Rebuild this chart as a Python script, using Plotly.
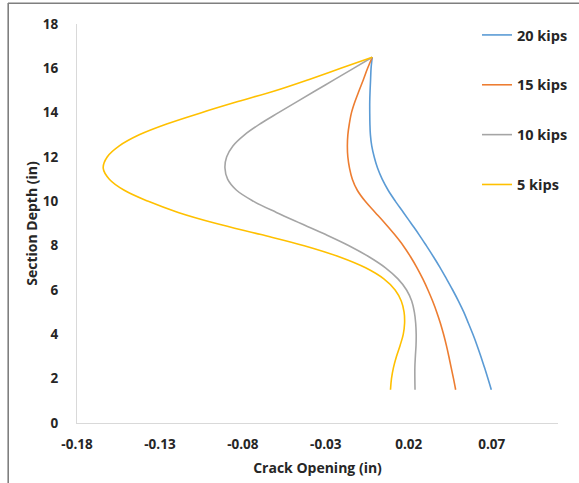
import plotly.graph_objects as go

depth = [16.5, 16.0, 15.5, 15.0, 14.5, 14.0, 13.5, 13.0, 12.5, 12.0, 11.5, 11.0, 10.5, 10.0, 9.5, 9.0,
         8.5, 8.0, 7.5, 7.0, 6.5, 6.0, 5.5, 5.0, 4.5, 4.0, 3.5, 3.0, 2.5, 2.0, 1.5]
kips20 = [-0.002, -0.0027, -0.0030, -0.0033, -0.0035, -0.0035, -0.0034, -0.0031, -0.0023, -0.0008, 0.0012,
          0.0040, 0.0076, 0.0120, 0.0168, 0.0215, 0.0262, 0.0306, 0.0349, 0.0390, 0.0428, 0.0465, 0.0500,
          0.0532, 0.0560, 0.0587, 0.0612, 0.0635, 0.0657, 0.0678, 0.0698]
kips15 = [-0.002, -0.0048, -0.0073, -0.0099, -0.0124, -0.0145, -0.0158, -0.0167, -0.0170, -0.0167, -0.0157,
          -0.0140, -0.0110, -0.0062, -0.0002, 0.0058, 0.0115, 0.0167, 0.0211, 0.0250, 0.0285, 0.0316, 0.0344,
          0.0369, 0.0391, 0.0410, 0.0427, 0.0442, 0.0456, 0.0470, 0.0483]
kips10 = [-0.002, -0.0133, -0.0246, -0.0360, -0.0473, -0.0585, -0.0695, -0.0790, -0.0860, -0.0898, -0.0908,
          -0.0892, -0.0838, -0.0735, -0.0598, -0.0450, -0.0300, -0.0160, -0.0040, 0.0060, 0.0135, 0.0187,
          0.0218, 0.0234, 0.0242, 0.0245, 0.0244, 0.0240, 0.0237, 0.0237, 0.0238]
kips5 = [-0.002, -0.021, -0.040, -0.060, -0.083, -0.105, -0.1255, -0.1425, -0.1545, -0.1618, -0.1642,
         -0.1605, -0.1515, -0.1370, -0.1190, -0.0960, -0.0690, -0.0430, -0.0220, -0.0060, 0.0050, 0.0118,
         0.0155, 0.0172, 0.0175, 0.0167, 0.0148, 0.0126, 0.0108, 0.0096, 0.0090]

series_names = ["20 kips", "15 kips", "10 kips", "5 kips"]
series_vals = [kips20, kips15, kips10, kips5]
colors = ["#5B9BD5", "#ED7D31", "#A5A5A5", "#FFC000"]

x_ticks = [-0.18, -0.13, -0.08, -0.03, 0.02, 0.07]
x_tick_labels = ["-0.18", "-0.13", "-0.08", "-0.03", "0.02", "0.07"]
y_ticks = [0, 2, 4, 6, 8, 10, 12, 14, 16, 18]

FONT = "Open Sans"
TXT = "#262626"

fig = go.Figure()
for name, vals, col in zip(series_names, series_vals, colors):
    fig.add_trace(go.Scatter(
        x=vals, y=depth, mode="lines", name=name,
        line=dict(color=col, width=1.6, shape="spline", smoothing=1.0),
        legendgroup=name,
    ))

L, R, T, B = 77, 21, 24, 60
W, H = 579, 483
pw, ph = W - L - R, H - T - B

fig.update_layout(
    width=W, height=H,
    margin=dict(l=L, r=R, t=T, b=B, pad=0, autoexpand=False),
    paper_bgcolor="white", plot_bgcolor="white",
    font=dict(family=FONT, color=TXT, size=13),
    showlegend=True,
    legend=dict(
        x=(477 - L) / pw, y=1.0 + 5 / ph, xanchor="left", yanchor="top",
        font=dict(family=FONT, size=14.5, color=TXT, weight="bold"),
        traceorder="grouped", tracegroupgap=28,
        bgcolor="rgba(0,0,0,0)", itemwidth=30,
    ),
    xaxis=dict(
        range=[-0.18, 0.11], tickvals=x_ticks, ticktext=x_tick_labels,
        showgrid=False, zeroline=False, automargin=False,
        showline=True, linecolor="#D9D9D9", linewidth=1.2,
        ticks="outside", ticklen=9, tickcolor="rgba(0,0,0,0)",
        tickfont=dict(family=FONT, size=13.5, color=TXT, weight="bold"),
        title=dict(text="Crack Opening (in)", standoff=10,
                   font=dict(family=FONT, size=14, color=TXT, weight="bold")),
    ),
    yaxis=dict(
        range=[0, 18], tickvals=y_ticks,
        showgrid=False, zeroline=False, automargin=False,
        showline=True, linecolor="#D9D9D9", linewidth=1.2,
        ticks="outside", ticklen=15, tickcolor="rgba(0,0,0,0)",
        tickfont=dict(family=FONT, size=13.5, color=TXT, weight="bold"),
        title=dict(text="Section Depth (in)", standoff=1,
                   font=dict(family=FONT, size=14, color=TXT, weight="bold")),
    ),
)

# chart-area border (cropped: only left and top edges visible)
bx = (8 - L) / pw
by_top = (H - B - 3) / ph
by_bot = -(B + 5) / ph
bx_right = (W - L + 5) / pw
fig.add_shape(type="line", xref="paper", yref="paper", x0=bx, x1=bx, y0=by_bot, y1=by_top,
              line=dict(color="#7F7F7F", width=1.2), layer="above")
fig.add_shape(type="line", xref="paper", yref="paper", x0=bx, x1=bx_right, y0=by_top, y1=by_top,
              line=dict(color="#7F7F7F", width=1.2), layer="above")

post = (
    "document.body.style.margin='0';document.body.style.padding='0';"
    "var b=document.createElement('div');"
    "b.style.cssText='position:absolute;left:8px;top:3px;width:700px;height:700px;"
    "border-left:1px solid #7F7F7F;border-top:1px solid #7F7F7F;pointer-events:none;';"
    "document.body.appendChild(b);"
)
fig.write_html("out.html", post_script=post, config={"displayModeBar": False})
